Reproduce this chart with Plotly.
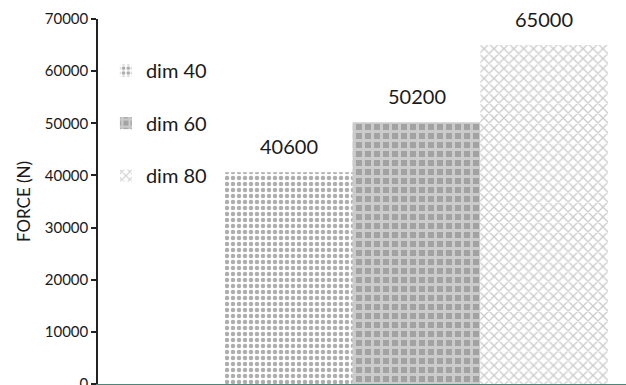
import plotly.graph_objects as go

# Peak force for each die dimension
series_names = ["dim 40", "dim 60", "dim 80"]
force_values = [40600, 50200, 65000]
y_ticks = [0, 10000, 20000, 30000, 40000, 50000, 60000, 70000]

# Fill pattern for each bar
patterns = [
    dict(shape=".", fgcolor="#5e5e5e", bgcolor="#ffffff", size=6, solidity=0.45),
    dict(shape="+", fgcolor="#f4f4f4", bgcolor="#a2a2a2", size=9, solidity=0.55),
    dict(shape="x", fgcolor="#9a9a9a", bgcolor="#ffffff", size=7, solidity=0.35),
]

FONT = "Lato"

fig = go.Figure()
for name, val, pat in zip(series_names, force_values, patterns):
    fig.add_trace(go.Bar(
        x=[0], y=[val], name=name, legendgroup=name,
        marker=dict(color="#ffffff", pattern=pat, line=dict(width=0)),
        hoverinfo="y",
    ))

# Value labels above the bars
offsets = [-1, 0, 1]
bar_w = 0.8 / 3
for off, val in zip(offsets, force_values):
    fig.add_annotation(
        x=off * bar_w, y=val, text=f"{val}", showarrow=False,
        yanchor="bottom", yshift=12,
        font=dict(family=FONT, size=20, color="#1a1a1a"),
    )

fig.update_layout(
    width=626, height=385,
    margin=dict(l=98, r=0, t=19, b=1, autoexpand=False),
    paper_bgcolor="white", plot_bgcolor="white",
    barmode="group", bargap=0.2, bargroupgap=0,
    font=dict(family=FONT, color="#1a1a1a"),
    showlegend=True,
    legend=dict(
        x=0.015, y=0.912, xanchor="left", yanchor="top",
        font=dict(family=FONT, size=20, color="#1a1a1a"),
        tracegroupgap=23.5, bgcolor="rgba(0,0,0,0)",
    ),
    xaxis=dict(
        range=[-0.6653, 0.4376], showticklabels=False, ticks="",
        showgrid=False, zeroline=False, automargin=False,
        showline=True, linecolor="#4f8479", linewidth=2,
    ),
    yaxis=dict(
        range=[0, 70000], tickvals=y_ticks,
        ticktext=[str(v) for v in y_ticks],
        ticklabeloverflow="allow", automargin=False,
        showgrid=False, zeroline=False,
        showline=True, linecolor="#222222", linewidth=1.5,
        ticks="outside", ticklen=5, tickwidth=1.5, tickcolor="#222222",
        tickfont=dict(family=FONT, size=15, color="#1a1a1a"),
        title=dict(text="FORCE (N)", standoff=10,
                   font=dict(family=FONT, size=17, color="#1a1a1a")),
    ),
)

fig.write_html("out.html")
